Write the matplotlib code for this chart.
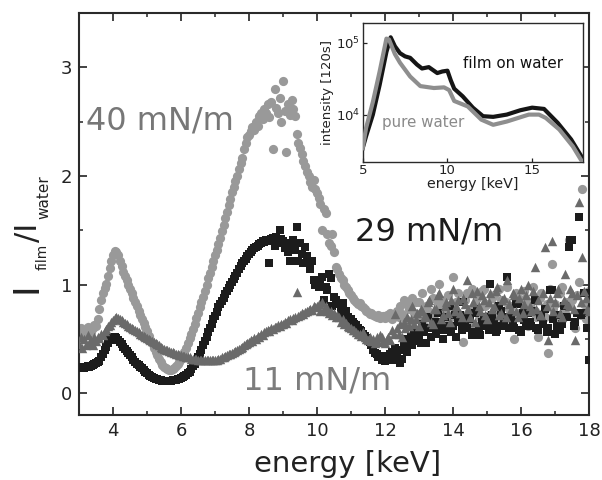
import numpy as np
import matplotlib
matplotlib.use("Agg")
import matplotlib.pyplot as plt
from matplotlib.ticker import MultipleLocator, LogLocator, LogFormatterMathtext, NullLocator

plt.rcParams['font.family'] = ['DejaVu Sans']
plt.rcParams['mathtext.default'] = 'regular'

# ---------------- data: main panel (ratio I_film / I_water) ----------------
energy = np.round(np.arange(3.0, 18.025, 0.05), 2)

ratio_40 = [
    0.55, 0.60, 0.57, 0.54, 0.58, 0.61, 0.59, 0.56, 0.60, 0.63, 0.62, 0.68, 0.78, 0.86, 0.92, 0.97, 1.01, 1.08, 1.15, 1.22,
    1.27, 1.31, 1.30, 1.27, 1.22, 1.17, 1.12, 1.08, 1.04, 1.00, 0.96, 0.92, 0.88, 0.84, 0.80, 0.76, 0.72, 0.68, 0.65, 0.61,
    0.57, 0.53, 0.49, 0.46, 0.42, 0.38, 0.35, 0.32, 0.29, 0.26, 0.24, 0.23, 0.22, 0.21, 0.21, 0.22, 0.23, 0.25, 0.27, 0.29,
    0.32, 0.35, 0.38, 0.42, 0.46, 0.51, 0.55, 0.59, 0.64, 0.69, 0.74, 0.79, 0.84, 0.89, 0.94, 1.00, 1.06, 1.11, 1.16, 1.22,
    1.27, 1.32, 1.37, 1.43, 1.49, 1.55, 1.61, 1.67, 1.73, 1.79, 1.85, 1.90, 1.95, 2.00, 2.06, 2.12, 2.17, 2.25, 2.30, 2.36,
    2.38, 2.41, 2.45, 2.42, 2.50, 2.46, 2.55, 2.58, 2.52, 2.62, 2.58, 2.66, 2.54, 2.68, 2.25, 2.80, 2.63, 2.58, 2.72, 2.50,
    2.87, 2.60, 2.22, 2.66, 2.56, 2.70, 2.62, 2.55, 2.39, 2.30, 2.26, 2.20, 2.14, 2.09, 2.04, 2.00, 1.94, 1.90, 1.96, 1.88,
    1.84, 1.80, 1.74, 1.50, 1.70, 1.66, 1.47, 1.38, 1.36, 1.47, 1.30, 1.16, 1.14, 1.10, 1.06, 1.04, 1.00, 0.98, 0.95, 0.92,
    0.90, 0.88, 0.86, 0.84, 0.82, 0.83, 0.80, 0.79, 0.78, 0.76, 0.75, 0.73, 0.74, 0.72, 0.71, 0.70, 0.72, 0.69, 0.70, 0.71,
    0.69, 0.72, 0.70, 0.74, 0.68, 0.73, 0.71, 0.76, 0.70, 0.80, 0.73, 0.86, 0.69, 0.82, 0.78, 0.66, 0.88, 0.74, 0.84, 0.70,
    0.84, 0.74, 0.92, 0.62, 0.80, 0.76, 0.70, 0.96, 0.88, 0.72, 0.58, 0.82, 1.01, 0.76, 0.86, 0.66, 0.74, 0.90, 0.80, 0.70,
    1.07, 0.78, 0.84, 0.92, 0.72, 0.62, 0.47, 0.86, 0.92, 0.74, 0.78, 0.96, 0.64, 0.82, 0.88, 0.72, 0.70, 0.94, 0.96, 0.80,
    0.82, 0.72, 0.60, 0.88, 0.90, 0.76, 0.74, 0.96, 0.86, 0.68, 0.66, 0.84, 0.98, 0.78, 0.80, 0.70, 0.50, 0.92, 0.88, 0.74,
    0.72, 0.86, 0.94, 0.66, 0.62, 0.80, 0.84, 0.98, 0.76, 0.70, 0.52, 0.88, 0.92, 0.74, 0.70, 0.82, 0.37, 0.96, 1.19, 0.78,
    0.82, 0.70, 0.64, 0.92, 0.98, 0.76, 0.74, 0.84, 1.41, 0.80, 0.86, 0.66, 0.60, 0.90, 1.02, 0.72, 1.88, 0.82, 0.68, 0.76,
    0.94,
]

ratio_29 = [
    0.24, 0.23, 0.24, 0.23, 0.24, 0.25, 0.24, 0.25, 0.26, 0.27, 0.28, 0.29, 0.30, 0.33, 0.36, 0.40, 0.43, 0.46, 0.49, 0.51,
    0.52, 0.52, 0.51, 0.49, 0.47, 0.45, 0.43, 0.41, 0.39, 0.37, 0.35, 0.33, 0.31, 0.29, 0.27, 0.26, 0.24, 0.23, 0.21, 0.20,
    0.19, 0.17, 0.16, 0.15, 0.14, 0.13, 0.13, 0.12, 0.12, 0.11, 0.11, 0.11, 0.11, 0.11, 0.11, 0.12, 0.12, 0.12, 0.13, 0.13,
    0.14, 0.15, 0.16, 0.17, 0.19, 0.20, 0.22, 0.25, 0.27, 0.30, 0.33, 0.36, 0.40, 0.44, 0.48, 0.52, 0.56, 0.60, 0.64, 0.68,
    0.71, 0.75, 0.79, 0.82, 0.85, 0.88, 0.91, 0.94, 0.97, 1.00, 1.02, 1.05, 1.08, 1.11, 1.14, 1.17, 1.20, 1.22, 1.24, 1.26,
    1.28, 1.30, 1.32, 1.34, 1.35, 1.36, 1.37, 1.38, 1.40, 1.39, 1.41, 1.40, 1.20, 1.42, 1.43, 1.36, 1.44, 1.38, 1.50, 1.42,
    1.40, 1.34, 1.38, 1.30, 1.22, 1.36, 1.41, 1.32, 1.53, 1.22, 1.38, 1.28, 1.20, 1.35, 1.26, 1.22, 1.14, 1.22, 1.04, 1.00,
    1.02, 0.98, 1.04, 1.07, 0.86, 0.98, 0.95, 1.10, 1.06, 0.80, 0.89, 0.86, 0.82, 0.70, 0.78, 0.83, 0.74, 0.76, 0.70, 0.67,
    0.68, 0.66, 0.64, 0.63, 0.60, 0.58, 0.57, 0.55, 0.53, 0.51, 0.49, 0.47, 0.44, 0.40, 0.37, 0.36, 0.33, 0.34, 0.31, 0.32,
    0.30, 0.34, 0.31, 0.36, 0.38, 0.31, 0.42, 0.35, 0.40, 0.28, 0.32, 0.44, 0.50, 0.38, 0.46, 0.52, 0.44, 0.58, 0.48, 0.54,
    0.52, 0.46, 0.64, 0.56, 0.46, 0.70, 0.60, 0.52, 0.62, 0.66, 0.55, 0.74, 0.58, 0.66, 0.50, 0.70, 0.58, 0.62, 0.80, 0.56,
    0.62, 0.72, 0.52, 0.66, 0.72, 0.58, 0.84, 0.64, 0.60, 0.70, 0.68, 0.54, 0.56, 0.74, 0.78, 0.60, 0.54, 0.66, 0.70, 0.62,
    0.62, 0.58, 1.01, 0.72, 0.66, 0.56, 0.58, 0.80, 0.76, 0.62, 0.64, 0.70, 1.07, 0.60, 0.70, 0.66, 0.60, 0.82, 0.82, 0.58,
    0.56, 0.74, 0.67, 0.62, 0.74, 0.66, 0.62, 0.76, 0.86, 0.60, 0.58, 0.72, 0.70, 0.64, 0.78, 0.56, 0.60, 0.95, 0.95, 0.68,
    0.55, 0.62, 0.72, 0.58, 0.64, 0.80, 0.80, 0.70, 1.35, 1.41, 1.41, 0.62, 0.66, 0.74, 1.62, 0.72, 0.74, 0.92, 0.92, 0.60,
    0.31,
]

ratio_11 = [
    0.45, 0.52, 0.42, 0.50, 0.44, 0.54, 0.46, 0.49, 0.44, 0.52, 0.48, 0.52, 0.51, 0.55, 0.54, 0.57, 0.59, 0.62, 0.63, 0.66,
    0.67, 0.69, 0.70, 0.69, 0.68, 0.67, 0.66, 0.65, 0.64, 0.62, 0.61, 0.60, 0.59, 0.58, 0.57, 0.56, 0.55, 0.54, 0.53, 0.52,
    0.51, 0.50, 0.49, 0.48, 0.47, 0.46, 0.45, 0.44, 0.43, 0.42, 0.41, 0.40, 0.40, 0.39, 0.38, 0.38, 0.37, 0.36, 0.36, 0.35,
    0.35, 0.34, 0.34, 0.33, 0.33, 0.33, 0.32, 0.32, 0.32, 0.32, 0.31, 0.31, 0.31, 0.31, 0.31, 0.31, 0.31, 0.31, 0.31, 0.31,
    0.31, 0.31, 0.32, 0.32, 0.33, 0.33, 0.34, 0.35, 0.36, 0.36, 0.37, 0.38, 0.39, 0.40, 0.41, 0.42, 0.43, 0.44, 0.45, 0.46,
    0.47, 0.49, 0.48, 0.51, 0.50, 0.53, 0.52, 0.55, 0.54, 0.56, 0.57, 0.58, 0.57, 0.60, 0.59, 0.61, 0.61, 0.63, 0.62, 0.64,
    0.64, 0.66, 0.65, 0.67, 0.68, 0.67, 0.69, 0.70, 0.93, 0.71, 0.72, 0.74, 0.73, 0.75, 0.76, 0.77, 0.78, 0.77, 0.80, 0.79,
    0.80, 0.82, 0.76, 0.84, 0.78, 0.80, 0.76, 0.74, 0.76, 0.72, 0.74, 0.70, 0.72, 0.70, 0.66, 0.68, 0.64, 0.65, 0.62, 0.61,
    0.60, 0.58, 0.58, 0.56, 0.55, 0.55, 0.53, 0.56, 0.52, 0.50, 0.49, 0.52, 0.48, 0.50, 0.46, 0.52, 0.47, 0.54, 0.52, 0.48,
    0.46, 0.50, 0.52, 0.49, 0.58, 0.55, 0.73, 0.60, 0.55, 0.64, 0.52, 0.66, 0.60, 0.70, 0.62, 0.68, 0.80, 0.64, 0.68, 0.74,
    0.62, 0.78, 0.76, 0.70, 0.70, 0.84, 0.86, 0.66, 0.64, 0.78, 0.78, 0.90, 0.92, 0.68, 0.72, 0.80, 0.84, 0.74, 0.66, 0.86,
    0.96, 0.76, 0.80, 0.86, 0.74, 0.70, 0.88, 0.82, 1.04, 0.78, 0.70, 0.92, 0.84, 0.66, 0.94, 0.80, 0.76, 0.90, 0.86, 0.72,
    0.68, 0.84, 0.92, 0.78, 0.80, 0.94, 0.98, 0.72, 0.74, 0.86, 0.88, 0.70, 1.04, 0.82, 0.78, 0.92, 0.90, 0.76, 0.70, 0.88,
    0.96, 0.74, 0.82, 0.90, 1.00, 0.80, 0.76, 0.94, 1.16, 0.78, 0.86, 0.72, 0.72, 0.92, 1.35, 0.80, 0.49, 0.88, 1.40, 0.76,
    0.84, 0.92, 0.96, 0.74, 0.70, 0.86, 1.10, 0.82, 0.80, 0.96, 0.92, 0.78, 0.49, 0.90, 1.76, 0.84, 1.25, 0.94, 0.88, 0.78,
    0.76,
]

series_labels = ["40 mN/m", "29 mN/m", "11 mN/m"]

# ---------------- data: inset (raw intensities, log scale) ----------------
inset_e_film = [5.0, 5.2, 5.6, 6.0, 6.4, 6.65, 6.9, 7.2, 7.5, 7.8, 8.2, 8.5, 8.9,
                9.4, 9.7, 10.0, 10.2, 10.4, 10.9, 11.5, 12.1, 12.7, 13.5, 14.3,
                15.0, 15.7, 16.5, 17.3, 18.0]
inset_i_film = [3400, 5000, 10000, 26000, 75000, 120000, 90000, 72000, 65000, 62000,
                50000, 44000, 46000, 38000, 40000, 41000, 30000, 23000, 18000, 12500,
                9500, 9300, 10000, 11500, 12500, 12000, 7700, 4500, 2400]
inset_e_water = [5.0, 5.2, 5.6, 6.0, 6.4, 6.55, 6.9, 7.2, 7.8, 8.4, 9.2, 9.8, 10.1,
                 10.4, 11.2, 12.0, 12.7, 13.5, 14.8, 15.4, 15.8, 16.6, 17.4, 18.0]
inset_i_water = [3400, 6500, 15000, 40000, 115000, 112000, 70000, 53000, 34000, 25000,
                 23500, 24000, 22000, 15500, 13000, 8500, 7200, 8000, 10000, 10000,
                 9000, 6200, 3600, 2100]

# ---------------- figure ----------------
W, H = 602, 480
fig = plt.figure(figsize=(W / 100, H / 100), dpi=100)
ax = fig.add_axes([79 / W, 1 - 415 / H, 510 / W, 402 / H])

c40, c29, c11 = '#999999', '#1c1c1c', '#6a6a6a'
ax.scatter(energy, ratio_40, s=44, marker='o', color=c40, linewidths=0, zorder=2)
ax.scatter(energy, ratio_29, s=34, marker='s', color=c29, linewidths=0, zorder=3)
ax.scatter(energy, ratio_11, s=46, marker='^', color=c11, linewidths=0, zorder=4)

ax.set_xlim(3, 18)
ax.set_ylim(-0.2, 3.5)
ax.xaxis.set_major_locator(MultipleLocator(2))
ax.xaxis.set_minor_locator(MultipleLocator(1))
ax.yaxis.set_major_locator(MultipleLocator(1))
ax.yaxis.set_minor_locator(MultipleLocator(0.5))
ax.tick_params(which='both', direction='in', top=True, right=True,
               labelsize=13, colors='#222222', pad=5)
ax.tick_params(which='major', length=6, width=1.2)
ax.tick_params(which='minor', length=3, width=1.1)
for sp in ax.spines.values():
    sp.set_linewidth(1.5)
    sp.set_color('#2a2a2a')

ax.set_xlabel("energy [keV]", fontsize=21, color='#222222')
ax.xaxis.set_label_coords((348 - 79) / 510, -(478 - 415) / 402, transform=ax.transAxes)
ax.xaxis.label.set_verticalalignment('bottom')

# y label built from pieces: big I with small subscripts
def ptxt(x, y, s, size, color='#222222'):
    fig.text(x / W, 1 - y / H, s, fontsize=size, rotation=90, rotation_mode='anchor',
             ha='left', va='baseline', color=color)

ptxt(37, 293, "I", 26)
ptxt(47, 270, "film", 10)
ptxt(37, 242, "/I", 22)
ptxt(48, 219, "water", 11)

# series annotations
ax.text(3.22, 2.51, series_labels[0], fontsize=23, color='#777777', ha='left', va='center')
ax.text(11.12, 1.48, series_labels[1], fontsize=23, color='#1c1c1c', ha='left', va='center')
ax.text(7.82, 0.11, series_labels[2], fontsize=23, color='#7d7d7d', ha='left', va='center')

# ---------------- inset ----------------
axi = fig.add_axes([362.7 / W, 1 - 161.7 / H, 220.3 / W, 138.7 / H])
axi.set_facecolor('white')
axi.plot(inset_e_film, inset_i_film, color='#151515', lw=3.0, solid_joinstyle='round', zorder=2)
axi.plot(inset_e_water, inset_i_water, color='#8e8e8e', lw=3.0, solid_joinstyle='round', zorder=3)
axi.set_yscale('log')
axi.set_xlim(5, 18)
axi.set_ylim(2200, 1.9e5)
axi.xaxis.set_major_locator(MultipleLocator(5))
axi.xaxis.set_minor_locator(NullLocator())
axi.yaxis.set_major_locator(LogLocator(base=10, numticks=5))
axi.yaxis.set_major_formatter(LogFormatterMathtext())
axi.yaxis.set_minor_locator(NullLocator())
axi.tick_params(which='both', direction='in', labelsize=9.5, length=3, width=0.9,
                pad=2, colors='#222222')
for sp in axi.spines.values():
    sp.set_linewidth(1.0)
    sp.set_color('#2a2a2a')
axi.set_xlabel("energy [keV]", fontsize=10.3, labelpad=0, color='#222222')
axi.set_ylabel("intensity [120s]", fontsize=9.5, labelpad=1, color='#222222')
axi.text(13.87, 5.2e4, "film on water", fontsize=10.9, color='#111111', ha='center', va='center')
axi.text(8.56, 7.7e3, "pure water", fontsize=10.9, color='#8a8a8a', ha='center', va='center')

fig.savefig("out.png", dpi=100)
